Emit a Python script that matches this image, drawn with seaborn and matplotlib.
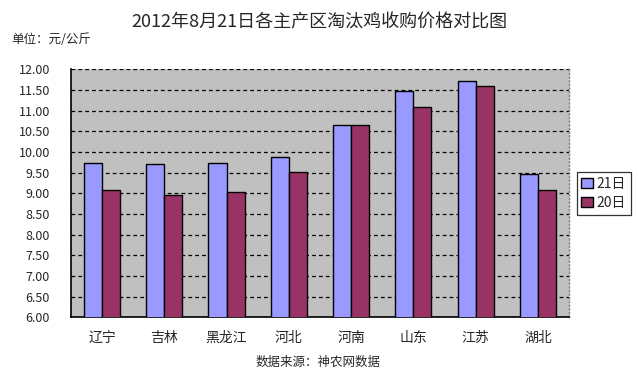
import pandas as pd
import seaborn as sns
import matplotlib.pyplot as plt
import numpy as np

# values (元/公斤)
regions = ['辽宁', '吉林', '黑龙江', '河北', '河南', '山东', '江苏', '湖北']
price_21 = [9.73, 9.70, 9.73, 9.87, 10.65, 11.47, 11.71, 9.46]
price_20 = [9.07, 8.95, 9.02, 9.51, 10.65, 11.10, 11.60, 9.07]
series = ['21日', '20日']
yticks = np.arange(6.0, 12.01, 0.5)

df = pd.DataFrame({
    'region': regions * 2,
    'price': price_21 + price_20,
    'day': [series[0]] * len(regions) + [series[1]] * len(regions),
})

sns.set_style('white')
plt.rcParams['font.family'] = ['Noto Sans CJK SC', 'DejaVu Sans']

fig = plt.figure(figsize=(6.38, 3.75), dpi=100)
ax = fig.add_axes([0.111, 0.154, 0.781, 0.661])
ax.set_facecolor('#C0C0C0')

sns.barplot(data=df, x='region', y='price', hue='day', hue_order=series,
            palette=['#9999FF', '#993366'], width=0.58, gap=0,
            edgecolor='black', linewidth=1.0, saturation=1, ax=ax, zorder=3)

ax.set_ylim(6.0, 12.0)
ax.set_xlim(-0.5, len(regions) - 0.5)
ax.set_yticks(yticks)
ax.set_yticklabels([f'{v:.2f}' for v in yticks], fontsize=9)
ax.set_xticks(range(len(regions)))
ax.set_xticklabels(regions, fontsize=10)
ax.set_xticks(np.arange(0.5, len(regions) - 0.5, 1), minor=True)
ax.tick_params(axis='x', which='major', length=0, pad=10)
ax.tick_params(axis='x', which='minor', length=4, direction='out', color='black', width=1)
ax.tick_params(axis='y', length=3, direction='out', color='black', pad=12)
ax.set_xlabel('')
ax.set_ylabel('')

ax.yaxis.grid(True, linestyle=(0, (3, 2.5)), color='black', linewidth=0.9, zorder=1)
ax.set_axisbelow(True)
for s in ['left', 'bottom']:
    ax.spines[s].set_color('black')
    ax.spines[s].set_linewidth(1.2)
ax.spines['top'].set_visible(False)
ax.spines['right'].set_color('#808080')
ax.spines['right'].set_linestyle(':')
ax.spines['right'].set_linewidth(1.0)

leg = ax.legend(loc='center left', bbox_to_anchor=(1.015, 0.5), fontsize=10,
                frameon=True, fancybox=False, edgecolor='black',
                handlelength=0.8, handleheight=0.8, handletextpad=0.3,
                borderpad=0.35, labelspacing=0.35, borderaxespad=0)
leg.get_frame().set_linewidth(0.9)

fig.text(0.5, 0.94, '2012年8月21日各主产区淘汰鸡收购价格对比图',
         ha='center', va='center', fontsize=13)
fig.text(0.018, 0.895, '单位：元/公斤', ha='left', va='center', fontsize=9)
fig.text(0.498, 0.033, '数据来源：神农网数据', ha='center', va='center', fontsize=9)

fig.savefig('out.png', dpi=100)
